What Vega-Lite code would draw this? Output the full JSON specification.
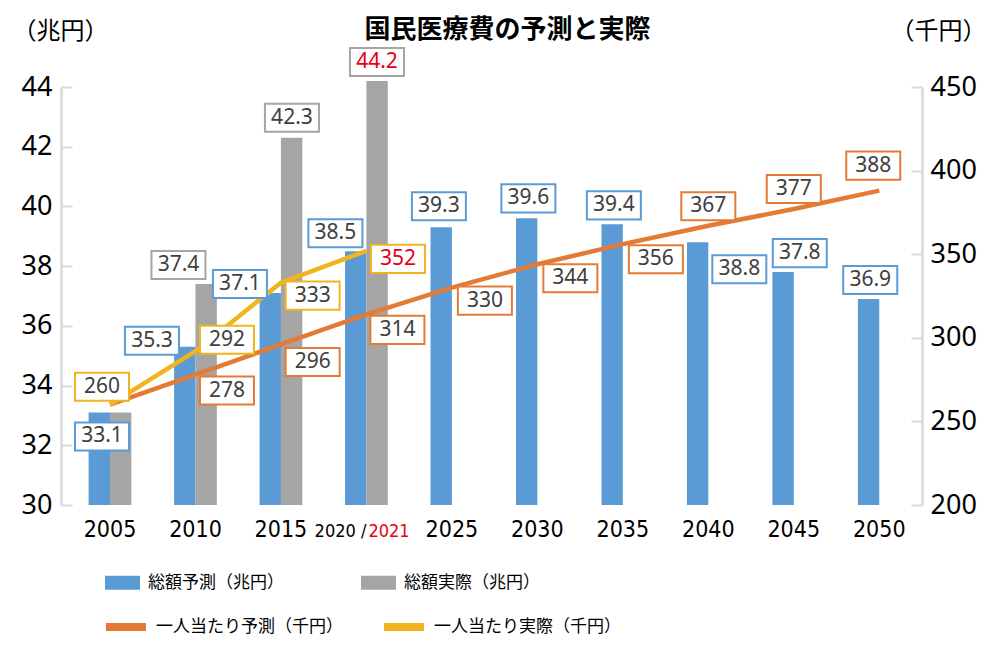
{
  "$schema": "https://vega.github.io/schema/vega-lite/v6.json",
  "width": 861,
  "height": 418,
  "autosize": {"type": "none"},
  "padding": {"left": 61, "top": 87, "right": 78, "bottom": 146},
  "background": "white",
  "config": {"view": {"stroke": null}, "font": "Noto Sans CJK JP"},
  "title": {
    "text": "国民医療費の予測と実際",
    "font": "Noto Sans CJK JP",
    "fontSize": 26,
    "fontWeight": "bold",
    "color": "#000000",
    "anchor": "middle",
    "frame": "group",
    "baseline": "middle",
    "offset": -37,
    "dx": 16
  },
  "datasets": {
    "bars": [
      {"year": "2005", "series": "総額予測（兆円）", "value": 33.1},
      {"year": "2005", "series": "総額実際（兆円）", "value": 33.1},
      {"year": "2010", "series": "総額予測（兆円）", "value": 35.3},
      {"year": "2010", "series": "総額実際（兆円）", "value": 37.4},
      {"year": "2015", "series": "総額予測（兆円）", "value": 37.1},
      {"year": "2015", "series": "総額実際（兆円）", "value": 42.3},
      {"year": "2020", "series": "総額予測（兆円）", "value": 38.5},
      {"year": "2020", "series": "総額実際（兆円）", "value": 44.2},
      {"year": "2025", "series": "総額予測（兆円）", "value": 39.3},
      {"year": "2030", "series": "総額予測（兆円）", "value": 39.6},
      {"year": "2035", "series": "総額予測（兆円）", "value": 39.4},
      {"year": "2040", "series": "総額予測（兆円）", "value": 38.8},
      {"year": "2045", "series": "総額予測（兆円）", "value": 37.8},
      {"year": "2050", "series": "総額予測（兆円）", "value": 36.9}
    ],
    "lines": [
      {"year": "2005", "series": "一人当たり予測（千円）", "value": 260},
      {"year": "2010", "series": "一人当たり予測（千円）", "value": 278},
      {"year": "2015", "series": "一人当たり予測（千円）", "value": 296},
      {"year": "2020", "series": "一人当たり予測（千円）", "value": 314},
      {"year": "2025", "series": "一人当たり予測（千円）", "value": 330},
      {"year": "2030", "series": "一人当たり予測（千円）", "value": 344},
      {"year": "2035", "series": "一人当たり予測（千円）", "value": 356},
      {"year": "2040", "series": "一人当たり予測（千円）", "value": 367},
      {"year": "2045", "series": "一人当たり予測（千円）", "value": 377},
      {"year": "2050", "series": "一人当たり予測（千円）", "value": 388},
      {"year": "2005", "series": "一人当たり実際（千円）", "value": 260},
      {"year": "2010", "series": "一人当たり実際（千円）", "value": 292},
      {"year": "2015", "series": "一人当たり実際（千円）", "value": 333},
      {"year": "2020", "series": "一人当たり実際（千円）", "value": 352}
    ],
    "xlabels": [
      {"year": "2005", "label": "2005"},
      {"year": "2010", "label": "2010"},
      {"year": "2015", "label": "2015"},
      {"year": "2020", "label": "2020 /"},
      {"year": "2025", "label": "2025"},
      {"year": "2030", "label": "2030"},
      {"year": "2035", "label": "2035"},
      {"year": "2040", "label": "2040"},
      {"year": "2045", "label": "2045"},
      {"year": "2050", "label": "2050"}
    ],
    "notes": [{"year": "2020", "text": "2021"}]
  },
  "resolve": {"scale": {"y": "independent"}},
  "layer": [
    {
      "data": {"name": "bars"},
      "mark": {"type": "bar"},
      "encoding": {
        "x": {
          "field": "year", "type": "nominal", "sort": null,
          "scale": {"domain": ["2005","2010","2015","2020","2025","2030","2035","2040","2045","2050"], "paddingInner": 0, "paddingOuter": 0.0366, "align": 1},
          "axis": {
            "title": null, "domain": true, "domainColor": "#d9d9d9", "domainWidth": 2.5, "zindex": 1,
            "ticks": false, "labels": false
          }
        },
        "xOffset": {"field": "series", "type": "nominal", "sort": null, "scale": {"domain": ["総額予測（兆円）", "総額実際（兆円）"], "paddingInner": 0, "paddingOuter": 1.085}},
        "y": {
          "field": "value", "type": "quantitative",
          "scale": {"domain": [30, 44], "nice": false, "zero": false},
          "axis": {
            "orient": "left", "values": [30,32,34,36,38,40,42,44], "grid": false, "zindex": 1,
            "title": "（兆円）", "titleAngle": 0, "titleX": -1, "titleY": -56, "titleAlign": "center", "titleBaseline": "middle",
            "titleFont": "Noto Sans CJK JP", "titleFontSize": 24, "titleFontWeight": "normal", "titleColor": "#000000",
            "labelFont": "Noto Sans", "labelFontSize": 27, "labelColor": "#000000", "labelPadding": 20,
            "tickSize": -11, "tickColor": "#d9d9d9", "tickWidth": 2,
            "domainColor": "#d9d9d9", "domainWidth": 2.5
          }
        },
        "y2": {"datum": 30},
        "fill": {
          "field": "series", "type": "nominal", "sort": null,
          "scale": {"domain": ["総額予測（兆円）", "総額実際（兆円）"], "range": ["#5B9BD5", "#A5A5A5"]},
          "legend": {
            "orient": "none", "legendX": 44, "legendY": 478, "direction": "horizontal", "columns": 2,
            "title": null, "symbolType": "M-1,-0.4H1V0.4H-1Z", "symbolSize": 1225, "symbolStrokeWidth": 0,
            "labelFont": "Noto Sans CJK JP", "labelFontSize": 17, "labelColor": "#000000", "labelOffset": 8,
            "columnPadding": 77, "padding": 0, "labelLimit": 400
          }
        }
      }
    },
    {
      "data": {"name": "lines"},
      "mark": {"type": "line", "strokeWidth": 4.5},
      "encoding": {
        "x": {"field": "year", "type": "nominal", "sort": null, "axis": null},
        "y": {
          "field": "value", "type": "quantitative",
          "scale": {"domain": [200, 450], "nice": false, "zero": false},
          "axis": {
            "orient": "right", "values": [200,250,300,350,400,450], "grid": false, "zindex": 1,
            "title": "（千円）", "titleAngle": 0, "titleX": 16, "titleY": -56, "titleAlign": "center", "titleBaseline": "middle",
            "titleFont": "Noto Sans CJK JP", "titleFontSize": 24, "titleFontWeight": "normal", "titleColor": "#000000",
            "labelFont": "Noto Sans", "labelFontSize": 27, "labelColor": "#000000", "labelPadding": 19,
            "tickSize": -11, "tickColor": "#d9d9d9", "tickWidth": 2,
            "domainColor": "#d9d9d9", "domainWidth": 2.5
          }
        },
        "stroke": {
          "field": "series", "type": "nominal", "sort": null,
          "scale": {"domain": ["一人当たり予測（千円）", "一人当たり実際（千円）"], "range": ["#E47B35", "#F2B41E"]},
          "legend": {
            "orient": "none", "legendX": 41, "legendY": 516, "direction": "horizontal", "columns": 2,
            "title": null, "symbolType": "stroke", "symbolSize": 1600, "symbolStrokeWidth": 8,
            "labelFont": "Noto Sans CJK JP", "labelFontSize": 17, "labelColor": "#000000", "labelOffset": 6,
            "columnPadding": 25, "padding": 0, "labelLimit": 400
          }
        }
      }
    },
    {
      "data": {"name": "bars"},
      "transform": [{"filter": "!(datum.year == '2005' && indexof(datum.series, '実際') >= 0)"}],
      "mark": {
        "type": "point", "shape": "M-1,-0.52H1V0.52H-1Z", "size": 2916, "filled": true,
        "fill": "white", "opacity": 1, "strokeWidth": 2,
        "stroke": {"expr": "indexof(datum.series, '予測') >= 0 ? '#5B9BD5' : '#A5A5A5'"},
        "xOffset": {"expr": "indexof(datum.series, '予測') >= 0 ? {'2005':-8,'2010':-43.5,'2015':-41,'2020':-31,'2025':-13,'2030':-9,'2035':-9,'2040':31,'2045':6,'2050':-9}[datum.year] : {'2010':-17,'2015':11,'2020':10.6}[datum.year]"},
        "yOffset": {"expr": "indexof(datum.series, '予測') >= 0 ? {'2005':24,'2010':-6,'2015':-9,'2020':-18,'2025':-21,'2030':-20,'2035':-19,'2040':27,'2045':-19,'2050':-19}[datum.year] : {'2010':-19,'2015':-20,'2020':-19}[datum.year]"}
      },
      "encoding": {
        "x": {"field": "year", "type": "nominal", "sort": null, "axis": null},
        "y": {"field": "value", "type": "quantitative", "scale": {"domain": [30, 44], "nice": false, "zero": false}, "axis": null}
      }
    },
    {
      "data": {"name": "bars"},
      "transform": [{"filter": "!(datum.year == '2005' && indexof(datum.series, '実際') >= 0)"}],
      "mark": {
        "type": "text", "font": "Noto Sans", "fontSize": 21, "baseline": "middle", "align": "center",
        "fill": {"expr": "datum.year == '2020' && indexof(datum.series, '実際') >= 0 ? '#E60012' : '#404040'"},
        "xOffset": {"expr": "indexof(datum.series, '予測') >= 0 ? {'2005':-8,'2010':-43.5,'2015':-41,'2020':-31,'2025':-13,'2030':-9,'2035':-9,'2040':31,'2045':6,'2050':-9}[datum.year] : {'2010':-17,'2015':11,'2020':10.6}[datum.year]"},
        "yOffset": {"expr": "indexof(datum.series, '予測') >= 0 ? {'2005':24,'2010':-6,'2015':-9,'2020':-18,'2025':-21,'2030':-20,'2035':-19,'2040':27,'2045':-19,'2050':-19}[datum.year] : {'2010':-19,'2015':-20,'2020':-19}[datum.year]"}
      },
      "encoding": {
        "x": {"field": "year", "type": "nominal", "sort": null, "axis": null},
        "y": {"field": "value", "type": "quantitative", "scale": {"domain": [30, 44], "nice": false, "zero": false}, "axis": null},
        "text": {"field": "value", "type": "quantitative", "format": ".1f"}
      }
    },
    {
      "data": {"name": "lines"},
      "transform": [{"filter": "!(datum.year == '2005' && indexof(datum.series, '予測') >= 0)"}],
      "mark": {
        "type": "point", "shape": "M-1,-0.52H1V0.52H-1Z", "size": 2916, "filled": true,
        "fill": "white", "opacity": 1, "strokeWidth": 2,
        "stroke": {"expr": "indexof(datum.series, '予測') >= 0 ? '#E47B35' : '#F2B41E'"},
        "xOffset": {"expr": "indexof(datum.series, '予測') >= 0 ? {'2010':31.5,'2015':31.7,'2020':31,'2025':33,'2030':33,'2035':33,'2040':0,'2045':0,'2050':-6}[datum.year] : {'2005':-8,'2010':31.5,'2015':31.7,'2020':31.5}[datum.year]"},
        "yOffset": {"expr": "indexof(datum.series, '予測') >= 0 ? {'2010':16,'2015':17.5,'2020':15.5,'2025':13,'2030':14,'2035':15,'2040':-19.5,'2045':-20,'2050':-25}[datum.year] : {'2005':-18,'2010':-11.5,'2015':13,'2020':8}[datum.year]"}
      },
      "encoding": {
        "x": {"field": "year", "type": "nominal", "sort": null, "axis": null},
        "y": {"field": "value", "type": "quantitative", "scale": {"domain": [200, 450], "nice": false, "zero": false}, "axis": null}
      }
    },
    {
      "data": {"name": "lines"},
      "transform": [{"filter": "!(datum.year == '2005' && indexof(datum.series, '予測') >= 0)"}],
      "mark": {
        "type": "text", "font": "Noto Sans", "fontSize": 21, "baseline": "middle", "align": "center",
        "fill": {"expr": "datum.year == '2020' && indexof(datum.series, '実際') >= 0 ? '#E60012' : '#404040'"},
        "xOffset": {"expr": "indexof(datum.series, '予測') >= 0 ? {'2010':31.5,'2015':31.7,'2020':31,'2025':33,'2030':33,'2035':33,'2040':0,'2045':0,'2050':-6}[datum.year] : {'2005':-8,'2010':31.5,'2015':31.7,'2020':31.5}[datum.year]"},
        "yOffset": {"expr": "indexof(datum.series, '予測') >= 0 ? {'2010':16,'2015':17.5,'2020':15.5,'2025':13,'2030':14,'2035':15,'2040':-19.5,'2045':-20,'2050':-25}[datum.year] : {'2005':-18,'2010':-11.5,'2015':13,'2020':8}[datum.year]"}
      },
      "encoding": {
        "x": {"field": "year", "type": "nominal", "sort": null, "axis": null},
        "y": {"field": "value", "type": "quantitative", "scale": {"domain": [200, 450], "nice": false, "zero": false}, "axis": null},
        "text": {"field": "value", "type": "quantitative", "format": "d"}
      }
    },
    {
      "data": {"name": "xlabels"},
      "mark": {
        "type": "text", "font": "Liberation Sans Narrow, DejaVu Sans Condensed, Roboto Condensed, Roboto, sans-serif",
        "fontSize": {"expr": "datum.year == '2020' ? 18 : 23"},
        "align": {"expr": "datum.year == '2020' ? 'right' : 'center'"},
        "baseline": "alphabetic", "fill": "#000000", "dy": 32
      },
      "encoding": {
        "x": {"field": "year", "type": "nominal", "sort": null, "axis": null},
        "y": {"datum": 30, "type": "quantitative", "scale": {"domain": [30, 44], "nice": false, "zero": false}, "axis": null},
        "text": {"field": "label", "type": "nominal"}
      }
    },
    {
      "data": {"name": "notes"},
      "mark": {"type": "text", "font": "Liberation Sans Narrow, DejaVu Sans Condensed, Roboto Condensed, Roboto, sans-serif", "fontSize": 18, "baseline": "alphabetic", "align": "left", "fill": "#E60012", "dx": 2, "dy": 32},
      "encoding": {
        "x": {"field": "year", "type": "nominal", "sort": null, "axis": null},
        "y": {"datum": 30, "type": "quantitative", "scale": {"domain": [30, 44], "nice": false, "zero": false}, "axis": null},
        "text": {"field": "text", "type": "nominal"}
      }
    }
  ]
}
